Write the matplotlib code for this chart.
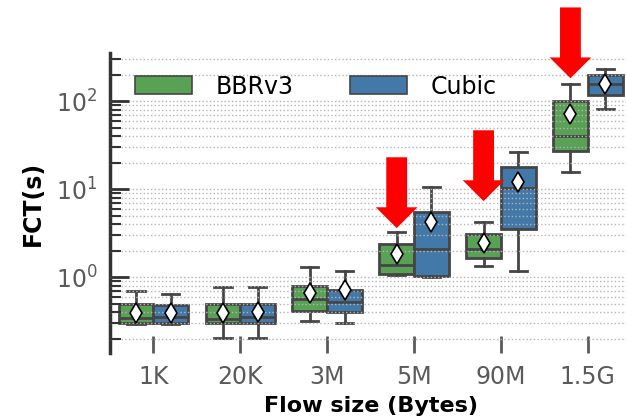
import matplotlib
matplotlib.use("Agg")
import matplotlib.pyplot as plt
from matplotlib.patches import Patch
import numpy as np


CATEGORIES = ["1K", "20K", "3M", "5M", "90M", "1.5G"]
SERIES = ["BBRv3", "Cubic"]
COLORS = ["#58a155", "#4379a8"]

# box statistics (seconds)
BBR_WHISLO = [0.295, 0.205, 0.316, 1.05, 1.34, 15.5]
BBR_Q1 = [0.30, 0.30, 0.41, 1.08, 1.66, 27.2]
BBR_MED = [0.34, 0.33, 0.56, 1.37, 2.08, 40.0]
BBR_Q3 = [0.50, 0.49, 0.80, 2.35, 3.06, 100.0]
BBR_WHISHI = [0.70, 0.78, 1.31, 3.27, 4.18, 158.0]
BBR_MEAN = [0.39, 0.39, 0.66, 1.81, 2.42, 71.0]

CUBIC_WHISLO = [0.295, 0.205, 0.30, 1.0, 1.18, 81.0]
CUBIC_Q1 = [0.30, 0.30, 0.40, 1.03, 3.51, 117.0]
CUBIC_MED = [0.35, 0.354, 0.515, 2.06, 10.2, 155.0]
CUBIC_Q3 = [0.48, 0.49, 0.71, 5.52, 17.6, 197.0]
CUBIC_WHISHI = [0.64, 0.78, 1.17, 10.6, 26.3, 235.0]
CUBIC_MEAN = [0.39, 0.40, 0.72, 4.18, 11.9, 158.0]

# red arrows pointing at BBRv3 boxes
ARROW_CATS = [3, 4, 5]
ARROW_TIPS = [3.6, 7.3, 182.0]

EDGE = "#454545"
TEXT_GRAY = "#5a5a5a"


def make_stats(whislo, q1, med, q3, whishi, mean):
    stats = []
    for i in range(len(med)):
        stats.append(
            {
                "whislo": whislo[i],
                "q1": q1[i],
                "med": med[i],
                "q3": q3[i],
                "whishi": whishi[i],
                "mean": mean[i],
                "fliers": [],
            }
        )
    return stats


fig = plt.figure(figsize=(6.26, 4.16), dpi=100)
ax = fig.add_axes([0.1757, 0.1522, 0.8327, 0.7197])

x = np.arange(len(CATEGORIES))
all_stats = [
    make_stats(BBR_WHISLO, BBR_Q1, BBR_MED, BBR_Q3, BBR_WHISHI, BBR_MEAN),
    make_stats(CUBIC_WHISLO, CUBIC_Q1, CUBIC_MED, CUBIC_Q3, CUBIC_WHISHI, CUBIC_MEAN),
]
offsets = [-0.2, 0.2]

for stats, off, color in zip(all_stats, offsets, COLORS):
    ax.bxp(
        stats,
        positions=x + off,
        widths=0.4,
        patch_artist=True,
        showmeans=True,
        showfliers=False,
        boxprops=dict(facecolor=color, edgecolor=EDGE, linewidth=2),
        medianprops=dict(color=EDGE, linewidth=2),
        whiskerprops=dict(color=EDGE, linewidth=2),
        capprops=dict(color=EDGE, linewidth=2),
        meanprops=dict(
            marker="d",
            markerfacecolor="white",
            markeredgecolor="black",
            markersize=10.5,
            markeredgewidth=1.2,
            zorder=4,
        ),
        zorder=2,
    )

ax.set_yscale("log")
ax.set_ylim(0.138, 350)
ax.set_xlim(-0.5, 5.5)
ax.set_xticks(x)
ax.set_xticklabels(CATEGORIES)

ax.set_axisbelow(False)
ax.yaxis.grid(True, which="both", linestyle=":", color="#b5b5b5", linewidth=1.0)

for side in ["top", "right", "bottom"]:
    ax.spines[side].set_visible(False)
ax.spines["left"].set_linewidth(2.5)
ax.spines["left"].set_color("#333333")

ax.tick_params(axis="x", direction="in", length=12, width=2, color=TEXT_GRAY,
               pad=9, labelsize=17, labelcolor=TEXT_GRAY)
ax.tick_params(axis="y", which="major", direction="in", length=14, width=2,
               color="#333333", pad=9, labelsize=17, labelcolor=TEXT_GRAY)
ax.tick_params(axis="y", which="minor", direction="in", length=8, width=1.5,
               color="#333333")

ax.set_ylabel("FCT(s)", fontsize=17, fontweight="bold", labelpad=8)
ax.set_xlabel("Flow size (Bytes)", fontsize=16, fontweight="bold", labelpad=5)

handles = [Patch(facecolor=c, edgecolor=EDGE, linewidth=1.2) for c in COLORS]
ax.legend(
    handles,
    SERIES,
    ncol=2,
    frameon=False,
    loc="center left",
    bbox_to_anchor=(0.048, 0.889),
    fontsize=17,
    handlelength=2.4,
    handleheight=0.8,
    handletextpad=1.0,
    columnspacing=2.4,
    borderpad=0,
    borderaxespad=0,
)

for cat, tip in zip(ARROW_CATS, ARROW_TIPS):
    ax.annotate(
        "",
        xy=(cat - 0.2, tip),
        xytext=(0, 51),
        textcoords="offset points",
        arrowprops=dict(facecolor="red", edgecolor="none", width=15,
                        headwidth=30, headlength=15, shrink=0),
        annotation_clip=False,
        zorder=5,
    )

fig.savefig("out.png", dpi=100)
